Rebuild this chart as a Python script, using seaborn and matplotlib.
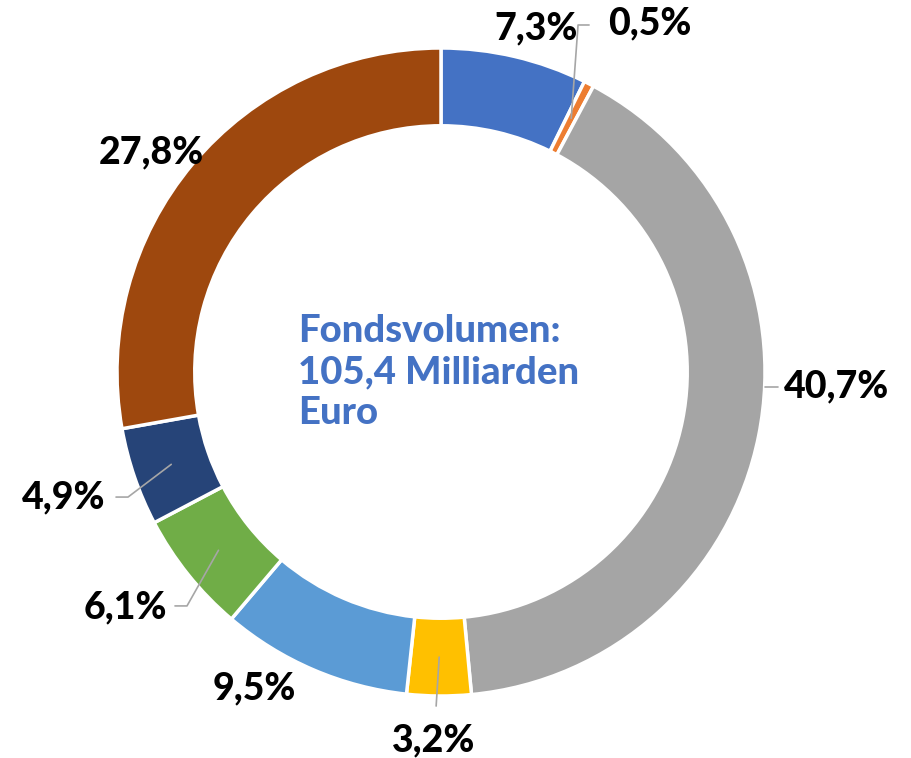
import numpy as np
import matplotlib
matplotlib.use("Agg")
import matplotlib.pyplot as plt
import seaborn as sns

# Anteile am Fondsvolumen (im Uhrzeigersinn ab 12 Uhr)
anteile = [7.3, 0.5, 40.7, 3.2, 9.5, 6.1, 4.9, 27.8]
labels = ["7,3%", "0,5%", "40,7%", "3,2%", "9,5%", "6,1%", "4,9%", "27,8%"]
farben = ["#4472C4", "#ED7D31", "#A5A5A5", "#FFC000",
          "#5B9BD5", "#70AD47", "#264478", "#9E480E"]
mitte_text = "Fondsvolumen:\n105,4 Milliarden\nEuro"

# Label-Positionen (Layout, in Einheiten des Radius)
label_pos = [(0.293, 1.062), (0.645, 1.076), (1.222, -0.045), (-0.022, -1.136),
             (-0.577, -0.978), (-0.975, -0.728), (-1.164, -0.386), (-0.895, 0.679)]
# Führungslinien: Knick- und Endpunkt (None = keine Linie)
leader = [None,
          [(0.423, 1.071), (0.457, 1.071)],
          "kurz",
          [(-0.015, -1.031)],
          None,
          [(-0.784, -0.722), (-0.821, -0.722)],
          [(-0.966, -0.386), (-1.003, -0.386)],
          None]

sns.set_theme(style="white")
plt.rcParams['font.family'] = ['Lato', 'DejaVu Sans']

fig = plt.figure(figsize=(9.12, 7.58), dpi=100)
ax = fig.add_axes([0, 0, 1, 1])

wedges, _ = ax.pie(anteile, colors=farben, startangle=90, counterclock=False,
                   radius=1.0,
                   wedgeprops=dict(width=0.24, edgecolor="white", linewidth=2.5))

# Beschriftungen
for i, w in enumerate(wedges):
    mid = np.deg2rad((w.theta1 + w.theta2) / 2)
    lx, ly = label_pos[i]
    if leader[i] == "kurz":
        ax.plot([1.0, 1.04], [ly, ly], color="#A6A6A6", lw=1.2)
    elif leader[i] is not None:
        start = (0.88 * np.cos(mid), 0.88 * np.sin(mid))
        pts = [start] + leader[i]
        ax.plot([p[0] for p in pts], [p[1] for p in pts], color="#A6A6A6", lw=1.2)
    ax.text(lx, ly, labels[i], ha="center", va="center",
            fontsize=27, fontweight="black", color="black")

ax.text(-0.441, 0.0, mitte_text, ha="left", va="center", fontsize=27.5,
        fontweight="black", color="#4472C4", linespacing=1.25)

# Mittelpunkt bei (441, 372) px, Radius 324 px
ax.set_xlim(-441 / 324, (912 - 441) / 324)
ax.set_ylim(-(758 - 372) / 324, 372 / 324)
ax.set_aspect("auto")
ax.axis("off")

fig.savefig("out.png", dpi=100, facecolor="white")
